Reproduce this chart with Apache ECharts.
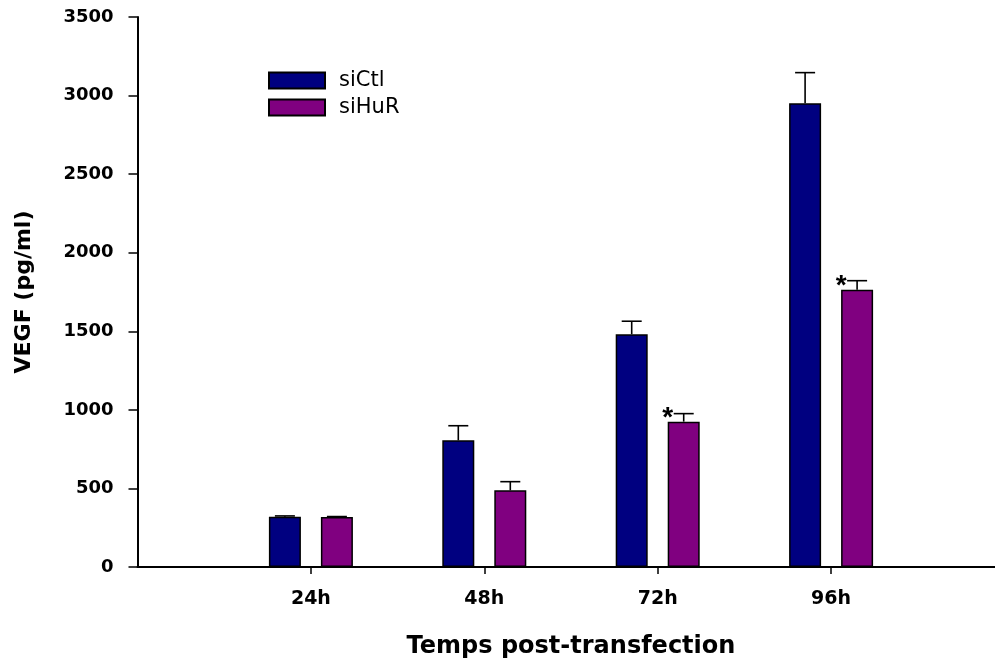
<!DOCTYPE html>
<html>
<head>
<meta charset="utf-8">
<script src="https://cdn.jsdelivr.net/npm/echarts@6/dist/echarts.min.js"></script>
<style>html,body{margin:0;padding:0;background:#fff}#c{width:995px;height:662px}</style>
</head>
<body>
<div id="c"></div>
<script>
const categories = ['24h', '48h', '72h', '96h'];
const siCtl = [320, 806, 1481, 2951];
const siCtlErr = [5, 93, 83, 195];
const siHuR = [318, 488, 925, 1765];
const siHuRErr = [3, 55, 51, 57];
const siHuRSignificant = [false, false, true, true];
const yTicks = [0, 500, 1000, 1500, 2000, 2500, 3000, 3500];

const axisCats = [''].concat(categories, ['']);
const FONT = '"DejaVu Sans", sans-serif';
const BAR_W = 32, BAR_GAP = 20;
const OFFSET = (BAR_W + BAR_GAP) / 2;

function padData(arr) { return [null].concat(arr, [null]); }

function errSeries(name, vals, errs, sign) {
  const data = [];
  vals.forEach((v, i) => data.push([i + 1, v, v + errs[i]]));
  return {
    type: 'custom', name: name + '-err', silent: true, z: 1,
    renderItem: function (params, api) {
      const x = api.value(0);
      const p0 = api.coord([axisCats[x], api.value(1)]);
      const p1 = api.coord([axisCats[x], api.value(2)]);
      const cx = p0[0] + sign * OFFSET;
      const cap = 10;
      return {
        type: 'group', children: [
          { type: 'line', shape: { x1: cx, y1: p0[1], x2: cx, y2: p1[1] }, style: { stroke: '#000', lineWidth: 1.6 } },
          { type: 'line', shape: { x1: cx - cap, y1: p1[1], x2: cx + cap, y2: p1[1] }, style: { stroke: '#000', lineWidth: 1.6 } }
        ]
      };
    },
    encode: { x: 0, y: [1, 2] },
    data: data
  };
}

const chart = echarts.init(document.getElementById('c'));
chart.setOption({
  animation: false,
  backgroundColor: '#fff',
  grid: { left: 137.5, width: 867, top: 17, height: 550, containLabel: false, outerBoundsMode: 'none' },
  legend: {
    orient: 'vertical', left: 268, top: 70, padding: 0,
    itemWidth: 56, itemHeight: 16, itemGap: 6,
    icon: 'rect',
    textStyle: { fontFamily: FONT, fontSize: 21, color: '#000', padding: [0, 0, 0, 9] },
    data: ['siCtl', 'siHuR']
  },
  xAxis: {
    type: 'category', data: axisCats, boundaryGap: false,
    axisLine: { lineStyle: { color: '#000', width: 2 } },
    axisTick: { show: true, length: 7, lineStyle: { color: '#000', width: 1.5 },
      interval: function (i) { return i >= 1 && i <= categories.length; } },
    axisLabel: { interval: 0, margin: 23, fontFamily: FONT, fontWeight: 'bold', fontSize: 19, color: '#000' },
    name: 'Temps post-transfection', nameLocation: 'middle', nameGap: 68,
    nameTextStyle: { fontFamily: FONT, fontWeight: 'bold', fontSize: 24, color: '#000' },
    splitLine: { show: false }
  },
  yAxis: {
    type: 'value', min: 0, max: 3500, interval: 500,
    axisLine: { show: true, lineStyle: { color: '#000', width: 2 } },
    axisTick: { show: true, length: 9, lineStyle: { color: '#000', width: 1.5 } },
    axisLabel: { margin: 24, fontFamily: FONT, fontWeight: 'bold', fontSize: 18, color: '#000',
      formatter: function (v) { return yTicks.indexOf(v) >= 0 ? String(v) : ''; } },
    splitLine: { show: false },
    name: 'VEGF (pg/ml)', nameLocation: 'middle', nameGap: 102,
    nameTextStyle: { fontFamily: FONT, fontWeight: 'bold', fontSize: 22, color: '#000' }
  },
  series: [
    {
      name: 'siCtl', type: 'bar', data: padData(siCtl), barWidth: BAR_W, barGap: (BAR_GAP / BAR_W * 100) + '%', z: 2,
      itemStyle: { color: '#000080', borderColor: '#000', borderWidth: 1.5 }
    },
    {
      name: 'siHuR', type: 'bar', z: 2, barWidth: BAR_W, barGap: (BAR_GAP / BAR_W * 100) + '%',
      data: padData(siHuR.map((v, i) => ({
        value: v,
        label: { show: siHuRSignificant[i] }
      }))),
      itemStyle: { color: '#800080', borderColor: '#000', borderWidth: 1.5 },
      label: { show: false, formatter: '*', position: [0, -3], align: 'center', verticalAlign: 'middle',
        fontFamily: '"Liberation Sans", sans-serif', fontWeight: 'bold', fontSize: 28, color: '#000' }
    },
    errSeries('siCtl', siCtl, siCtlErr, -1),
    errSeries('siHuR', siHuR, siHuRErr, 1)
  ]
});
</script>
</body>
</html>
